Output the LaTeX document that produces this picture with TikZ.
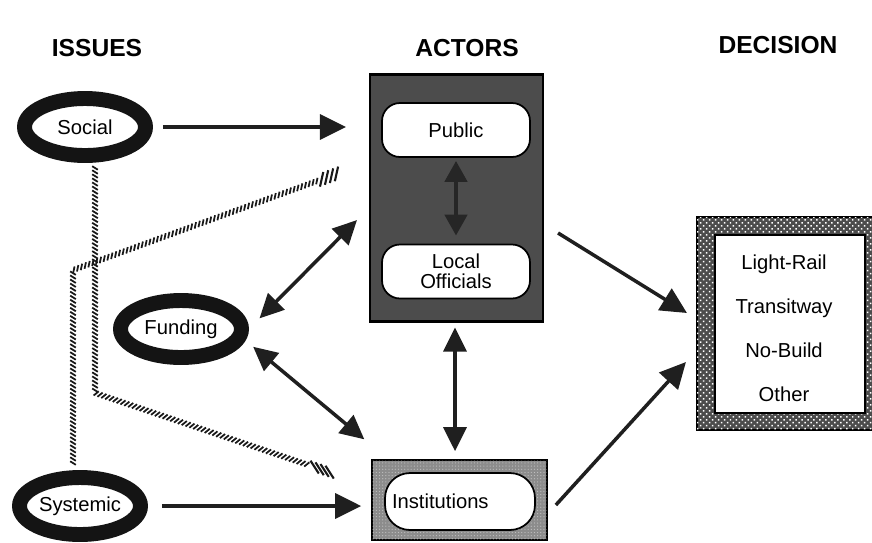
\documentclass[tikz,border=0pt]{standalone}
\usepackage{fontspec}
\setmainfont{Liberation Sans}
\usetikzlibrary{shapes.geometric,arrows.meta,calc,decorations.markings,patterns.meta}

\newcommand\lbl{\fontsize{11.5}{11.5}\selectfont}
\newcommand\headfont{\fontsize{14}{16}\selectfont\bfseries}

\tikzset{
  head/.style={font=\headfont, inner sep=0pt},
  issue/.style={ellipse, draw=black!92, line width=8.5pt, fill=white, minimum width=2.42cm, minimum height=1.14cm, inner sep=0pt, font=\lbl},
  actor/.style={draw=black, line width=1pt, fill=white, rounded corners=0.36cm, minimum width=2.96cm, minimum height=1.08cm, align=center, font=\lbl},
  actorsbox/.style={draw=black, line width=1.2pt, fill=black!70, minimum width=3.46cm, minimum height=4.94cm},
  instframe/.style={draw=black, line width=1pt, fill=black!45, minimum width=3.5cm, minimum height=1.6cm,
    postaction={pattern={Dots[distance=1.8pt,radius=.35pt]}, pattern color=white!75!black}},
  decframe/.style={draw=black, line width=1.2pt, fill=black!70, minimum width=3.72cm, minimum height=4.26cm,
    postaction={pattern={Dots[distance=2.4pt,radius=.6pt,angle=45]}, pattern color=white}},
  flow/.style={line width=2pt, draw=black!88, -{Triangle[length=0.52cm,width=0.5cm]}},
  link/.style={line width=2pt, draw=black!88, {Triangle[length=0.48cm,width=0.46cm]}-{Triangle[length=0.48cm,width=0.46cm]}},
  % striped connector, #1 = half of the end strokes
  rope/.style={decorate, decoration={markings,
    mark=between positions 0 and -13pt step 2.3pt with {\draw[black!90, line width=1pt] (-1pt,-1.6pt) -- (1pt,1.6pt);},
    mark=between positions -10.5pt and -0.5pt step 3pt with {\draw[black!90, line width=1.2pt] ($-1*(#1)$) -- (#1);}}},
}

\begin{document}
\begin{tikzpicture}[x=0.02cm, y=-0.02cm]
\useasboundingbox (0,0) rectangle (872,542);

% column heads
\node[head] (issueshead) at (97,48) {ISSUES};
\node[head] (actorshead) at (467,48) {ACTORS};
\node[head] (decisionhead) at (778,45) {DECISION};

% issues
\node[issue] (social) at (85,127) {Social};
\node[issue] (funding) at (181,329) {Funding};
\node[issue] (systemic) at (80,506) {Systemic};

% actors
\node[actorsbox] (actors) at (456.5,198) {};
\node[actor] (public) at (456,130) {Public};
\node[actor] (officials) at (456,271.5) {Local\\Officials};
\node[instframe] (inst) at (459.5,500) {};
\node[actor, rounded corners=0.5cm, minimum height=1.14cm, text width=2.72cm, inner xsep=0.14cm, align=left] (institutions) at (460,501.5) {Institutions};

% decision
\node[decframe] (decision) at (790,323.5) {};
\node[draw=black, line width=1pt, fill=white, minimum width=3cm, minimum height=3.56cm] (decbox) at (790,324) {};
\node[font=\fontsize{11.5}{25}\selectfont, align=center] (choices) at (784,328.5)
{Light-Rail\\Transitway\\No-Build\\Other};

% arrows
\draw[flow, shorten <=0.2cm, shorten >=0.46cm] (social.east) -- (social.east -| actors.west);
\draw[flow, shorten <=0.28cm, shorten >=0.2cm] (systemic.east) -- (systemic.east -| inst.west);
\draw[link, shorten <=0.3cm, shorten >=0.34cm] (funding.east) -- ($(actors.west)+(0,10)$);
\draw[link, shorten <=0.2cm, shorten >=0.62cm] (funding.-10) -- ($(inst.north west)+(17,0)$);
\draw[link] ($(actors.south)+(-1.5,5)$) -- ($(inst.north)+(-4.5,-8)$);
\draw[line width=2.6pt, draw=black!85, {Triangle[length=0.42cm,width=0.44cm]}-{Triangle[length=0.42cm,width=0.44cm]},
  shorten <=0.06cm, shorten >=0.16cm] (public.south) -- (officials.north);
\draw[flow] ($(actors.east)+(14,35)$) -- ($(decision.west)+(-9,-10.5)$);
\draw[flow] ($(inst.east)+(8,5)$) -- ($(decision.west)+(-10,38.5)$);

% striped links
\coordinate (bendA) at (73,270);
\coordinate (bendB) at (95,393);
\path[rope={2.3pt,3.6pt}] ($(systemic.north)+(-7,-7)$) -- (bendA) -- ($(actors.west)+(-30,-25)$);
\path[rope={3.4pt,-2.7pt}] ($(social.south)+(10,5)$) -- (bendB) -- ($(inst.west)+(-39,-27)$);
\end{tikzpicture}
\end{document}
